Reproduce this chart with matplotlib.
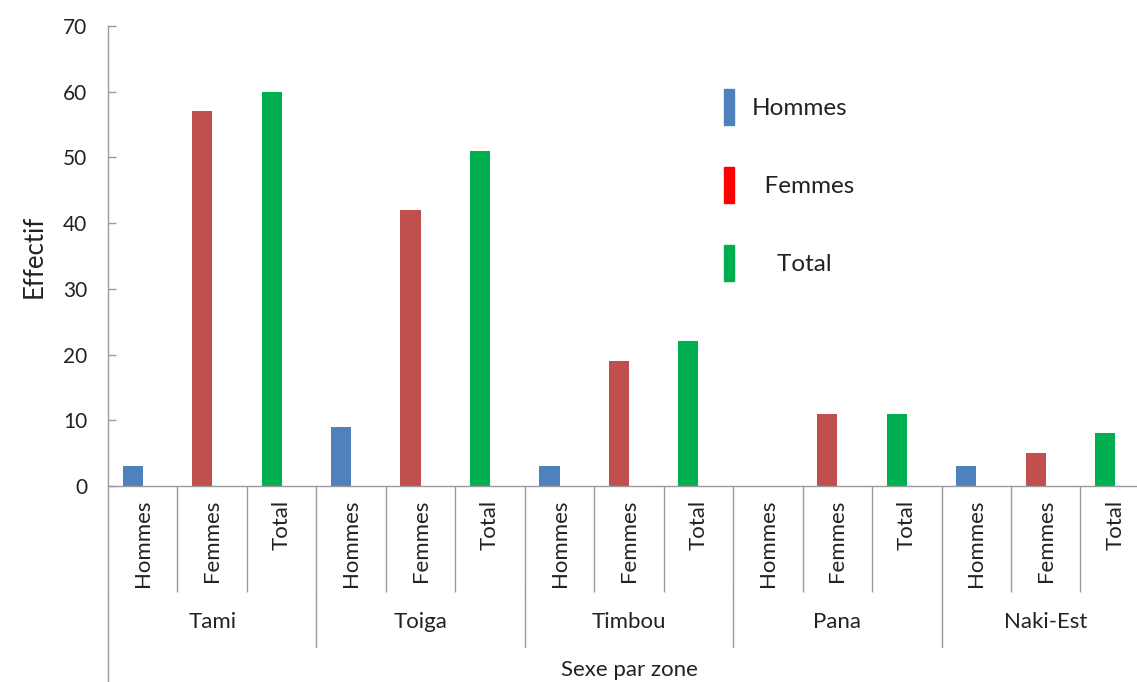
import numpy as np
import matplotlib
matplotlib.use('Agg')
import matplotlib.pyplot as plt
from matplotlib.patches import Patch

plt.rcParams['font.family'] = ['Lato', 'DejaVu Sans']

zones = ['Tami', 'Toiga', 'Timbou', 'Pana', 'Naki-Est']
series = ['Hommes', 'Femmes', 'Total']
hommes = [3, 9, 3, 0, 3]
femmes = [57, 42, 19, 11, 5]
total = [60, 51, 22, 11, 8]

bar_colors = ['#4F81BD', '#C0504D', '#00B050']
legend_colors = ['#4F81BD', '#FF0000', '#00B050']
legend_labels = ['Hommes', '  Femmes', '    Total']

gray = '#9a9a9a'
txt = '#222222'

fig = plt.figure(figsize=(11.37, 6.82), dpi=100)
ax = fig.add_axes([0.095, 0.2874, 0.9164, 0.6745])

values = [hommes, femmes, total]
for j, vals in enumerate(values):
    x = np.arange(len(zones)) * 3 + j
    ax.bar(x - 0.145, vals, width=0.29, color=bar_colors[j], zorder=2)

n = len(zones) * 3
ax.set_xlim(-0.5, n - 0.5)
ax.set_ylim(0, 70)
ax.set_yticks(range(0, 71, 10))

# sub category labels
ax.set_xticks(range(n))
ax.set_xticklabels(series * len(zones), rotation=90, fontsize=16, color=txt)
ax.tick_params(axis='x', which='major', length=0, pad=10)
# slot separators
ax.set_xticks(np.arange(-0.5, n, 1), minor=True)
ax.tick_params(axis='x', which='minor', length=76, width=1, color=gray, direction='out')
ax.tick_params(axis='y', direction='in', length=6, width=1, color=gray, labelsize=15,
               labelcolor=txt, pad=15)

for s in ['top', 'right']:
    ax.spines[s].set_visible(False)
for s in ['left', 'bottom']:
    ax.spines[s].set_color(gray)
    ax.spines[s].set_linewidth(1)

# group separators and labels
trans = ax.get_xaxis_transform()
for g in range(len(zones) + 1):
    xb = g * 3 - 0.5
    ylow = -0.45 if g == 0 else -0.351
    ax.plot([xb, xb], [-0.23, ylow], color=gray, lw=1, transform=trans, clip_on=False)
for g, z in enumerate(zones):
    ax.text(g * 3 + 1, -0.296, z, transform=trans, ha='center', va='center',
            fontsize=16, color=txt)

ax.text(0.5, -0.4, 'Sexe par zone', transform=ax.transAxes, ha='center', va='center',
        fontsize=16, color=txt)
ax.set_ylabel('Effectif', fontsize=18.5, color=txt, labelpad=12)

handles = [Patch(facecolor=c, edgecolor=c) for c in legend_colors]
leg = ax.legend(handles, legend_labels, loc='upper left', bbox_to_anchor=(0.57, 0.91),
                frameon=False, fontsize=17.5, handlelength=0.42, handleheight=1.9,
                labelspacing=1.72, handletextpad=0.75)
for t in leg.get_texts():
    t.set_color(txt)

fig.savefig('out.png', dpi=100)
